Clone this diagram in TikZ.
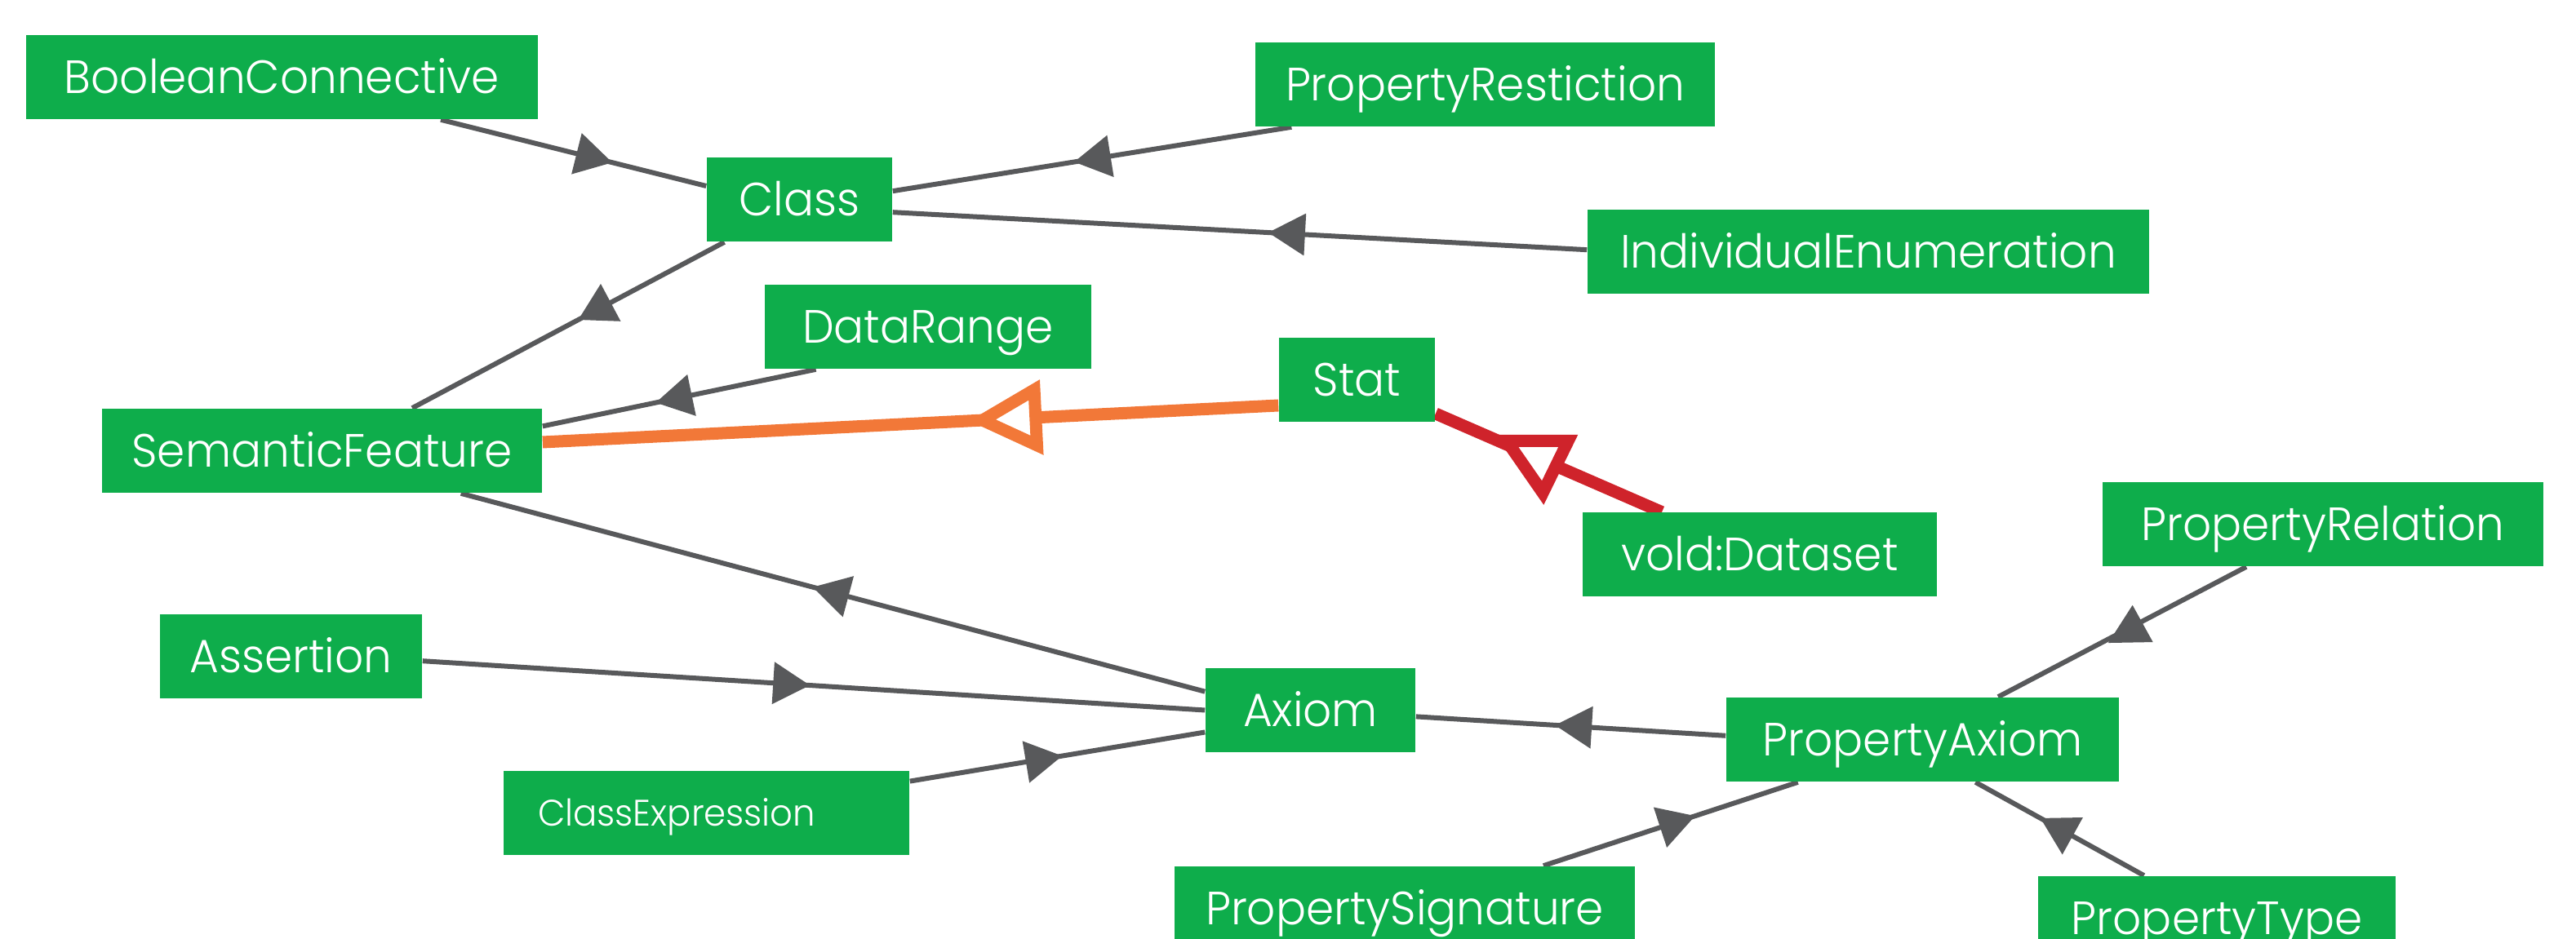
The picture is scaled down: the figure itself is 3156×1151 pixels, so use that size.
\documentclass[tikz,border=0pt]{standalone}
\usepackage{fontspec}
\setmainfont{Poppins}[UprightFont={* Light}, FakeStretch=0.96]
\usetikzlibrary{calc,backgrounds}
\definecolor{boxgreen}{HTML}{0EAD4B}
\definecolor{linegray}{HTML}{58595B}
\definecolor{orangeL}{HTML}{F27838}
\definecolor{redL}{HTML}{CF232B}
\tikzset{
  box/.style={fill=boxgreen, text=white, inner sep=0pt, minimum height=25.75pt,
    text height=10pt, text depth=0pt, font=\fontsize{14.3}{17}\selectfont},
  edge/.style={draw=linegray, line width=1.5pt},
  genO/.style={draw=orangeL, line width=3.75pt, miter limit=10},
  genR/.style={draw=redL, line width=3.75pt, miter limit=10},
}
\newcommand\tipat[3]{%
  \coordinate (tt) at ($(#1)!#3!(#2)$);
  \coordinate (bb) at ($(tt)!11.25pt!(#1)$);
  \fill[linegray] (tt) -- ($(bb)!6.5pt!90:(tt)$) -- ($(bb)!6.5pt!-90:(tt)$) -- cycle;
}
\begin{document}
\begin{tikzpicture}[x=0.25pt,y=-0.25pt]
\useasboundingbox (0,0) rectangle (3156,1151);
% nodes
\node[box,minimum width=156.75pt] (bc)   at (345.5,94.5)  {BooleanConnective};
\node[box,minimum width=56.75pt]  (cls)  at (979.5,244.5) {Class};
\node[box,minimum width=140.75pt] (pr)   at (1819.5,103.5){PropertyRestiction};
\node[box,minimum width=172pt]    (ie)   at (2289,308.5)  {IndividualEnumeration};
\node[box,minimum width=100pt]    (dr)   at (1137,400.5)  {DataRange};
\node[box,minimum width=47.75pt]  (stat) at (1662.5,465.5){Stat};
\node[box,minimum width=134.75pt] (sf)   at (394.5,552.5) {SemanticFeature};
\node[box,minimum width=108.5pt]  (vold) at (2156,680)    {vold:Dataset};
\node[box,minimum width=135pt]    (prel) at (2846,642.5)  {PropertyRelation};
\node[box,minimum width=80.25pt]  (as)   at (356.5,805)   {Assertion};
\node[box,minimum width=64.25pt]  (ax)   at (1605.5,870.5){Axiom};
\node[box,minimum width=120.25pt] (pa)   at (2355.5,906.5){PropertyAxiom};
\node[box,text width=103.25pt,align=left,inner xsep=10.5pt,text height=8pt,
      font=\fontsize{11.3}{14}\selectfont] (ce) at (865.5,997) {ClassExpression};
\node[box,minimum width=141pt]    (ps)   at (1721,1113.5) {PropertySignature};
\node[box,minimum width=109.5pt]  (pt)   at (2716,1125.5) {PropertyType};
% edge end points
\coordinate (a1) at ($(bc.south)+(194.5,0)$);  \coordinate (a2) at ($(cls.west)+(0,-16.5)$);
\coordinate (b1) at ($(cls.south)+(-92,0)$);   \coordinate (b2) at ($(sf.north)+(110.5,0)$);
\coordinate (c1) at ($(cls.east)+(0,-10.3)$);  \coordinate (c2) at ($(pr.south)+(-237.2,0)$);
\coordinate (d1) at ($(cls.east)+(0,15.7)$);   \coordinate (d2) at ($(ie.west)+(0,-2.3)$);
\coordinate (e1) at ($(sf.east)+(0,-30.1)$);   \coordinate (e2) at ($(dr.south)+(-137.4,0)$);
\coordinate (f1) at ($(sf.east)+(0,-10.5)$);   \coordinate (f2) at ($(stat.west)+(0,31.5)$);
\coordinate (g1) at ($(stat.east)+(0,41.5)$);  \coordinate (g2) at ($(vold.north)+(-120,0)$);
\coordinate (h1) at ($(sf.south)+(170.2,0)$);  \coordinate (h2) at ($(ax.west)+(0,-22.8)$);
\coordinate (i1) at ($(as.east)+(0,5.2)$);     \coordinate (i2) at (ax.west);
\coordinate (j1) at ($(ce.east)+(0,-39.4)$);   \coordinate (j2) at ($(ax.west)+(0,27)$);
\coordinate (k1) at ($(ax.east)+(0,7.9)$);     \coordinate (k2) at ($(pa.west)+(0,-4.7)$);
\coordinate (l1) at ($(ps.north)+(169.9,0)$);  \coordinate (l2) at ($(pa.south)+(-152.8,0)$);
\coordinate (m1) at ($(pa.south)+(64.7,0)$);   \coordinate (m2) at ($(pt.north)+(-89.3,0)$);
\coordinate (n1) at ($(pa.north)+(92.5,0)$);   \coordinate (n2) at ($(prel.south)+(-94,0)$);
% connectors
\begin{scope}[on background layer]
\foreach \e in {a,b,c,d,e,h,i,j,k,l,m,n} { \draw[edge] (\e1) -- (\e2); }
\draw[genO] (f1) -- (f2);
\draw[genR] (g1) -- (g2);
\end{scope}
% arrow heads
\tipat{a1}{a2}{0.646}
\tipat{b1}{b2}{0.468}
\tipat{c2}{c1}{0.545}
\tipat{d2}{d1}{0.459}
\tipat{e2}{e1}{0.586}
\tipat{h2}{h1}{0.527}
\tipat{i1}{i2}{0.495}
\tipat{j1}{j2}{0.516}
\tipat{k2}{k1}{0.551}
\tipat{l1}{l2}{0.596}
\tipat{m2}{m1}{0.614}
\coordinate (nm) at ($(n1)!0.536!(n2)$);
\fill[linegray] ($(nm)+(1.7,-27)$) -- ($(nm)+(-28,19.3)$) -- ($(nm)+(26.7,18.3)$) -- cycle;
% generalisation triangles
\coordinate (ot) at ($(f2)!0.402!(f1)$);
\coordinate (ob) at ($(ot)!16.25pt!(f2)$);
\draw[genO, fill=white] (ot) -- ($(ob)!8.5pt!90:(ot)$) -- ($(ob)!8.5pt!-90:(ot)$) -- cycle;
\coordinate (rm) at ($(g1)!0.458!(g2)$);
\draw[genR, fill=white] ($(rm)+(-39.8,-21.9)$) -- ($(rm)+(35.5,-21.9)$) -- ($(rm)+(4.4,41.8)$) -- cycle;
\end{tikzpicture}
\end{document}
